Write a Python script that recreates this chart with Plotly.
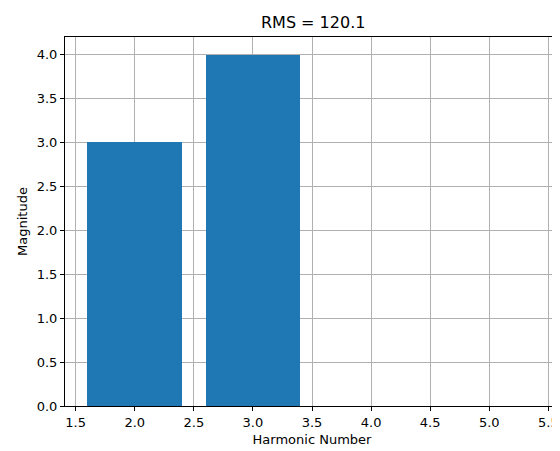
import plotly.graph_objects as go

harmonics = [2, 3, 4, 5]
magnitudes = [3.0, 4.0, 0.0, 0.0]
rms = 120.1

fig = go.Figure()
fig.add_trace(go.Bar(x=harmonics, y=magnitudes, width=0.8,
                     marker=dict(color="#1f77b4", line=dict(width=0))))

axis_style = dict(showline=True, linecolor="black", linewidth=1, mirror=True,
                  ticks="outside", ticklen=4, tickcolor="black",
                  showgrid=True, gridcolor="#b0b0b0", gridwidth=1,
                  zeroline=False, layer="above traces", automargin=False,
                  tickfont=dict(size=13, color="black"))

fig.update_layout(
    width=560, height=451,
    margin=dict(l=57, r=9, t=29, b=53, autoexpand=False),
    plot_bgcolor="white", paper_bgcolor="white",
    font=dict(family="DejaVu Sans", color="black"),
    title=dict(text=f"RMS = {rms}", x=0.545, xanchor="center", y=0.968, yanchor="middle",
               font=dict(size=16)),
    showlegend=False,
    bargap=0,
)
fig.update_xaxes(range=[1.41, 5.59], tickvals=[1.5, 2, 2.5, 3, 3.5, 4, 4.5, 5, 5.5],
                 ticktext=["1.5", "2.0", "2.5", "3.0", "3.5", "4.0", "4.5", "5.0", "5.5"],
                 title=dict(text="Harmonic Number", font=dict(size=13), standoff=6), **axis_style)
fig.update_yaxes(range=[0, 4.2], tickvals=[i * 0.5 for i in range(9)],
                 ticktext=[f"{i * 0.5:.1f}" for i in range(9)],
                 title=dict(text="Magnitude", font=dict(size=13), standoff=6), **axis_style)

fig.write_html("out.html")
